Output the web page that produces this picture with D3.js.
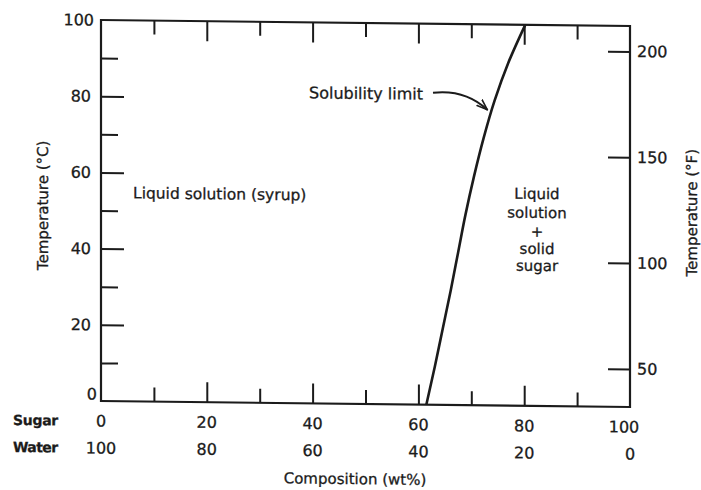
<!DOCTYPE html>
<html><head><meta charset="utf-8">
<script src="https://cdn.jsdelivr.net/npm/d3@7"></script>
<style>
html,body{margin:0;padding:0;background:#fff;}
svg{display:block;}
text{stroke:#1b1b1b;stroke-width:0.3px;}
</style></head>
<body>
<svg id="chart" width="701" height="490"></svg>
<script>
// ---- data ----
const tempC = [0, 10, 20, 30, 40, 50, 60, 70, 80, 90, 100];
const sugarWt = [61.5, 63.1, 64.6, 66.1, 67.5, 68.9, 70.5, 72.3, 74.4, 77.0, 80.2];
const tempMajorC = [0, 20, 40, 60, 80, 100];
const tempMinorC = [10, 30, 50, 70, 90];
const tempTicksF = [50, 100, 150, 200];
const compMajor = [20, 40, 60, 80];
const compMinor = [10, 30, 50, 70, 90];
const sugarLabels = [0, 20, 40, 60, 80, 100];
const waterLabels = [100, 80, 60, 40, 20, 0];

const W = 701, H = 490;
const L = 101, R = 630, T = 20, B = 401;
const ink = "#1b1b1b";
const font = "DejaVu Sans, Verdana, sans-serif";

const svg = d3.select("#chart");
svg.append("rect").attr("width", W).attr("height", H).attr("fill", "#fff");

// slight skew, like the scanned figure
const g = svg.append("g")
  .attr("transform", `translate(${L},0) skewY(0.65) translate(${-L},0)`);

const x = d3.scaleLinear().domain([0, 100]).range([L, R]);
const y = d3.scaleLinear().domain([0, 100]).range([B, T]);
const yF = d3.scaleLinear().domain([32, 212]).range([y(0), y(100)]);

function styleAxis(sel) {
  sel.select(".domain").remove();
  sel.selectAll(".tick line").attr("stroke", ink).attr("stroke-width", 2);
  sel.selectAll(".tick text").attr("fill", ink)
    .attr("font-family", font).attr("font-size", 16);
  sel.attr("font-family", null).attr("font-size", null);
}

// left axis (°C)
const gl = g.append("g").attr("transform", `translate(${L},0)`)
  .call(d3.axisLeft(y).tickValues(tempMajorC.filter(d => d > 0 && d < 100))
    .tickSize(-23).tickPadding(10).tickFormat(d3.format("d")));
styleAxis(gl);
g.append("g").attr("transform", `translate(${L},0)`)
  .call(d3.axisLeft(y).tickValues(tempMinorC).tickSize(-17).tickFormat(""))
  .call(styleAxis);
// end labels 0 and 100 (no tick line)
g.append("text").attr("x", L - 7).attr("y", y(100)).attr("dy", "0.35em")
  .attr("text-anchor", "end").attr("fill", ink).attr("font-family", font).attr("font-size", 16).text("100");
g.append("text").attr("x", L - 4).attr("y", y(0) - 7).attr("dy", "0.35em")
  .attr("text-anchor", "end").attr("fill", ink).attr("font-family", font).attr("font-size", 16).text("0");

// right axis (°F)
const gr = g.append("g").attr("transform", `translate(${R},0)`)
  .call(d3.axisRight(yF).tickValues(tempTicksF).tickSize(-22).tickPadding(7).tickFormat(d3.format("d")));
styleAxis(gr);

// bottom axis ticks (inward)
g.append("g").attr("transform", `translate(0,${B})`)
  .call(d3.axisBottom(x).tickValues(compMajor).tickSize(-20).tickFormat(""))
  .call(styleAxis);
g.append("g").attr("transform", `translate(0,${B})`)
  .call(d3.axisBottom(x).tickValues(compMinor).tickSize(-14).tickFormat(""))
  .call(styleAxis);
// top axis ticks (inward)
g.append("g").attr("transform", `translate(0,${T})`)
  .call(d3.axisTop(x).tickValues(compMajor).tickSize(-20).tickFormat(""))
  .call(styleAxis);
g.append("g").attr("transform", `translate(0,${T})`)
  .call(d3.axisTop(x).tickValues(compMinor).tickSize(-14).tickFormat(""))
  .call(styleAxis);

// frame
g.append("rect").attr("x", L).attr("y", T).attr("width", R - L).attr("height", B - T)
  .attr("fill", "none").attr("stroke", ink).attr("stroke-width", 2.2);

// composition labels (two rows)
const rowSugar = B + 20, rowWater = B + 47;
g.selectAll(".sl").data(sugarLabels).enter().append("text")
  .attr("x", d => x(d) - (d === 100 ? 6 : 0)).attr("y", rowSugar).attr("dy", "0.35em")
  .attr("text-anchor", "middle").attr("fill", ink).attr("font-family", font).attr("font-size", 16)
  .text(d => d);
g.selectAll(".wl").data(waterLabels).enter().append("text")
  .attr("x", (d, i) => x(sugarLabels[i])).attr("y", rowWater).attr("dy", "0.35em")
  .attr("text-anchor", "middle").attr("fill", ink).attr("font-family", font).attr("font-size", 16)
  .text(d => d);
g.append("text").attr("x", 13).attr("y", rowSugar).attr("dy", "0.35em")
  .attr("fill", ink).attr("font-family", font).attr("font-size", 14).attr("font-weight", "bold")
  .attr("letter-spacing", -0.3).text("Sugar");
g.append("text").attr("x", 13).attr("y", rowWater).attr("dy", "0.35em")
  .attr("fill", ink).attr("font-family", font).attr("font-size", 14).attr("font-weight", "bold")
  .attr("letter-spacing", -0.6).text("Water");

// axis titles
g.append("text").attr("x", 355).attr("y", B + 75).attr("dy", "0.35em")
  .attr("text-anchor", "middle").attr("fill", ink).attr("font-family", font).attr("font-size", 15)
  .text("Composition (wt%)");
g.append("text").attr("transform", `translate(43,206) rotate(-90)`).attr("dy", "0.35em")
  .attr("text-anchor", "middle").attr("fill", ink).attr("font-family", font).attr("font-size", 15)
  .text("Temperature (°C)");
g.append("text").attr("transform", `translate(692,206) rotate(-90)`).attr("dy", "0.35em")
  .attr("text-anchor", "middle").attr("fill", ink).attr("font-family", font).attr("font-size", 15)
  .text("Temperature (°F)");

// solubility curve
const line = d3.line().x(d => x(d[1])).y(d => y(d[0])).curve(d3.curveMonotoneY);
g.append("path").datum(tempC.map((t, i) => [t, sugarWt[i]]))
  .attr("d", line).attr("fill", "none").attr("stroke", ink).attr("stroke-width", 2.6);

// region labels
g.append("text").attr("x", 133).attr("y", 198)
  .attr("fill", ink).attr("font-family", font).attr("font-size", 15.5)
  .text("Liquid solution (syrup)");
const stack = ["Liquid", "solution", "+", "solid", "sugar"];
const stackY = [194, 213, 232, 249, 266];
g.selectAll(".st").data(stack).enter().append("text")
  .attr("x", 537).attr("y", (d, i) => stackY[i]).attr("text-anchor", "middle")
  .attr("fill", ink).attr("font-family", font).attr("font-size", 15)
  .text(d => d);

// annotation
g.append("text").attr("x", 309).attr("y", 96)
  .attr("fill", ink).attr("font-family", font).attr("font-size", 16)
  .text("Solubility limit");
svg.append("defs").append("marker").attr("id", "ah")
  .attr("viewBox", "0 0 12 10").attr("refX", 11).attr("refY", 5)
  .attr("markerWidth", 12).attr("markerHeight", 10).attr("markerUnits", "userSpaceOnUse")
  .attr("orient", "auto")
  .append("path").attr("d", "M0,1 L11,5 L0,9").attr("fill", "none").attr("stroke", ink).attr("stroke-width", 1.6);
const tx = x(73.4) - 2, ty = y(77.6);
g.append("path")
  .attr("d", `M${433},${89} Q${465},${85} ${tx},${ty}`)
  .attr("fill", "none").attr("stroke", ink).attr("stroke-width", 2)
  .attr("marker-end", "url(#ah)");
</script>
</body></html>
